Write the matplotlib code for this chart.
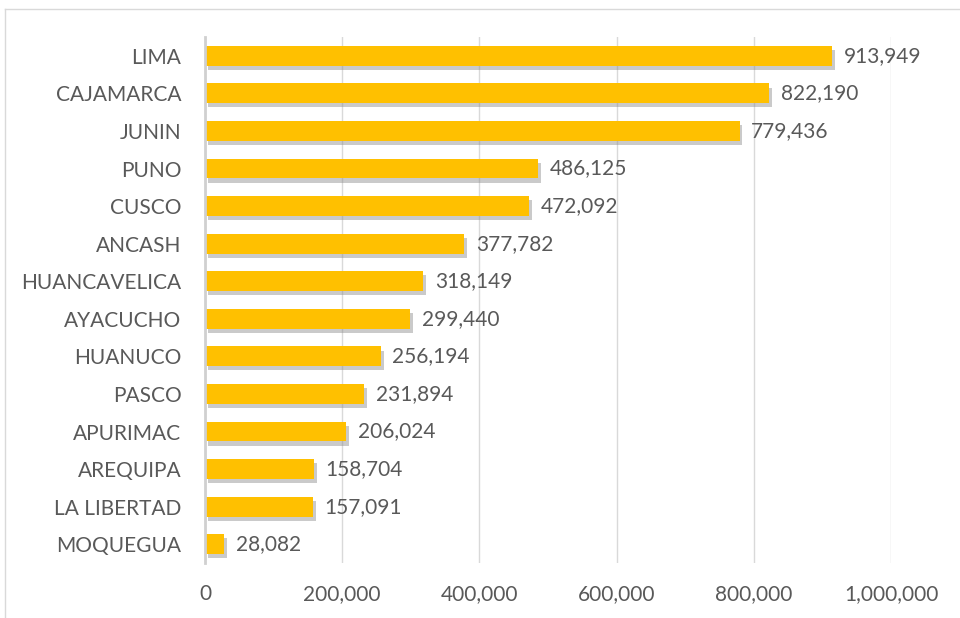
import numpy as np
import matplotlib.pyplot as plt
import matplotlib.patheffects as pe
from matplotlib.lines import Line2D
from matplotlib.ticker import FuncFormatter

plt.rcParams["font.family"] = ["Lato", "DejaVu Sans"]

# Data
regions = ["LIMA", "CAJAMARCA", "JUNIN", "PUNO", "CUSCO", "ANCASH", "HUANCAVELICA",
           "AYACUCHO", "HUANUCO", "PASCO", "APURIMAC", "AREQUIPA", "LA LIBERTAD", "MOQUEGUA"]
values = [913949, 822190, 779436, 486125, 472092, 377782, 318149,
          299440, 256194, 231894, 206024, 158704, 157091, 28082]

text_color = "#595959"
bar_color = "#FFC000"

fig = plt.figure(figsize=(9.6, 6.18), dpi=100)
ax = fig.add_axes([205 / 960, 1 - 563 / 618, (891 - 205) / 960, (563 - 37) / 618])

y = np.arange(len(regions))
bars = ax.barh(y, values, height=0.53, color=bar_color, zorder=3,
               path_effects=[pe.SimplePatchShadow(offset=(2, -3), shadow_rgbFace="#8a8a8a", alpha=0.45),
                             pe.Normal()])

for yi, v in zip(y, values):
    ax.text(v + 17000, yi, f"{v:,}", va="center", ha="left", fontsize=15, color=text_color, zorder=4)

ax.set_yticks(y)
ax.set_yticklabels(regions)
ax.set_ylim(len(regions) - 0.5, -0.5)
ax.set_xlim(0, 1000000)
ax.set_xticks(np.arange(0, 1000001, 200000))
ax.xaxis.set_major_formatter(FuncFormatter(lambda v, p: f"{int(v):,}"))

ax.tick_params(axis="both", length=0, labelsize=15, colors=text_color)
ax.tick_params(axis="x", pad=15)
ax.tick_params(axis="y", pad=17)

ax.grid(axis="x", color="#d9d9d9", linewidth=1, zorder=0)
for s in ["top", "right", "bottom"]:
    ax.spines[s].set_visible(False)
ax.spines["left"].set_color("#d0d0d0")
ax.spines["left"].set_linewidth(2)
ax.spines["left"].set_zorder(5)

# Outer chart frame (partly outside the image)
fig.add_artist(Line2D([5 / 960, 5 / 960], [0, 1 - 9 / 618], transform=fig.transFigure, color="#d9d9d9", lw=1))
fig.add_artist(Line2D([5 / 960, 1], [1 - 9 / 618, 1 - 9 / 618], transform=fig.transFigure, color="#d9d9d9", lw=1))

fig.savefig("out.png", dpi=100)
